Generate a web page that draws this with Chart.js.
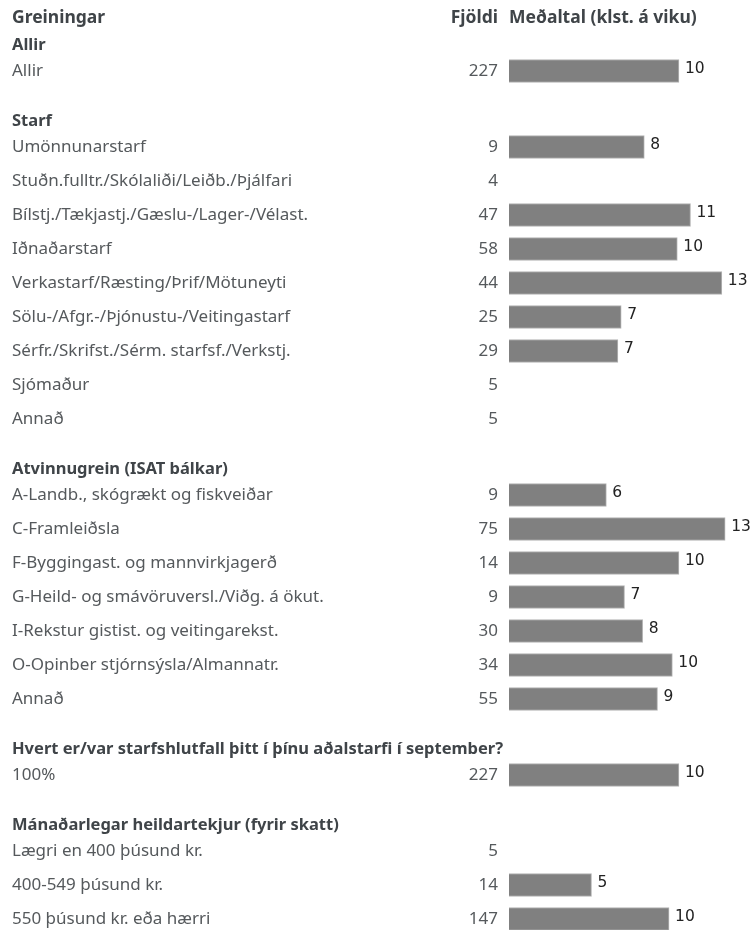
<!DOCTYPE html>
<html>
<head>
<meta charset="utf-8">
<script src="https://cdn.jsdelivr.net/npm/chart.js@4"></script>
<style>
  body { margin:0; background:#fff; }
  #wrap { width:751px; height:930px; }
</style>
</head>
<body>
<div id="wrap"><canvas id="chart" width="751" height="930"></canvas></div>
<script>
// Gögn
const sections = ['Allir', 'Starf', 'Atvinnugrein (ISAT bálkar)', 'Hvert er/var starfshlutfall þitt í þínu aðalstarfi í september?', 'Mánaðarlegar heildartekjur (fyrir skatt)'];
const sectionSizes = [1, 9, 7, 1, 3];
const categories = [
  'Allir',
  'Umönnunarstarf', 'Stuðn.fulltr./Skólaliði/Leiðb./Þjálfari', 'Bílstj./Tækjastj./Gæslu-/Lager-/Vélast.', 'Iðnaðarstarf',
  'Verkastarf/Ræsting/Þrif/Mötuneyti', 'Sölu-/Afgr.-/Þjónustu-/Veitingastarf', 'Sérfr./Skrifst./Sérm. starfsf./Verkstj.', 'Sjómaður', 'Annað',
  'A-Landb., skógrækt og fiskveiðar', 'C-Framleiðsla', 'F-Byggingast. og mannvirkjagerð', 'G-Heild- og smávöruversl./Viðg. á ökut.',
  'I-Rekstur gistist. og veitingarekst.', 'O-Opinber stjórnsýsla/Almannatr.', 'Annað',
  '100%',
  'Lægri en 400 þúsund kr.', '400-549 þúsund kr.', '550 þúsund kr. eða hærri'
];
const counts = [227, 9, 4, 47, 58, 44, 25, 29, 5, 5, 9, 75, 14, 9, 30, 34, 55, 227, 5, 14, 147];
const means = [10.3, 8.2, null, 11.0, 10.2, 12.9, 6.8, 6.6, null, null, 5.9, 13.1, 10.3, 7.0, 8.1, 9.9, 9.0, 10.3, null, 5.0, 9.7];

// Staðsetning raða (í pixlum frá toppi)
const ROW = 34, HEAD = 26, GAP = 16;
const headerPos = [], rowPos = [];
let cursor = 45;
sectionSizes.forEach(n => {
  headerPos.push(cursor);
  cursor += HEAD;
  for (let i = 0; i < n; i++) { rowPos.push(cursor); cursor += ROW; }
  cursor += GAP;
});

const font = '"Noto Sans", sans-serif';

// Texti: fyrirsagnir, flokkar, fjöldi og gildi
const textPlugin = {
  id: 'texts',
  afterDatasetsDraw(chart) {
    const ctx = chart.ctx;
    const y = chart.scales.y;
    ctx.save();
    ctx.textBaseline = 'middle';

    ctx.fillStyle = '#3f4448';
    ctx.font = 'bold 17.5px ' + font;
    ctx.textAlign = 'left';
    ctx.fillText('Greiningar', 12, 18);
    ctx.textAlign = 'right';
    ctx.fillText('Fjöldi', 498, 18);
    ctx.textAlign = 'left';
    ctx.fillText('Meðaltal (klst. á viku)', 509, 18);

    ctx.font = 'bold 16.5px ' + font;
    sections.forEach((s, i) => ctx.fillText(s, 12, y.getPixelForValue(headerPos[i])));

    ctx.fillStyle = '#55595c';
    ctx.font = '17px ' + font;
    categories.forEach((c, i) => {
      const py = y.getPixelForValue(rowPos[i]);
      ctx.textAlign = 'left';
      ctx.fillText(c, 12, py);
      ctx.textAlign = 'right';
      ctx.fillText(String(counts[i]), 498, py);
    });

    ctx.fillStyle = '#222';
    ctx.textAlign = 'left';
    ctx.font = '15.5px "DejaVu Sans", sans-serif';
    chart.getDatasetMeta(0).data.forEach((bar, i) => {
      if (means[i] == null) return;
      ctx.fillText(String(Math.round(means[i])), bar.x + 6, bar.y - 2);
    });
    ctx.restore();
  }
};

new Chart(document.getElementById('chart'), {
  type: 'bar',
  data: {
    datasets: [{
      data: means.map((v, i) => ({ x: v, y: rowPos[i] })),
      backgroundColor: '#808080',
      borderColor: '#b4b4b4',
      borderWidth: 1,
      barThickness: 23
    }]
  },
  options: {
    indexAxis: 'y',
    responsive: false,
    animation: false,
    layout: { padding: { left: 509, right: 11, top: 0, bottom: 0 } },
    plugins: { legend: { display: false }, tooltip: { enabled: false } },
    scales: {
      x: { type: 'linear', min: 0, max: 14, display: false },
      y: { type: 'linear', min: 0, max: 930, reverse: true, offset: false, display: false }
    }
  },
  plugins: [textPlugin]
});
</script>
</body>
</html>
